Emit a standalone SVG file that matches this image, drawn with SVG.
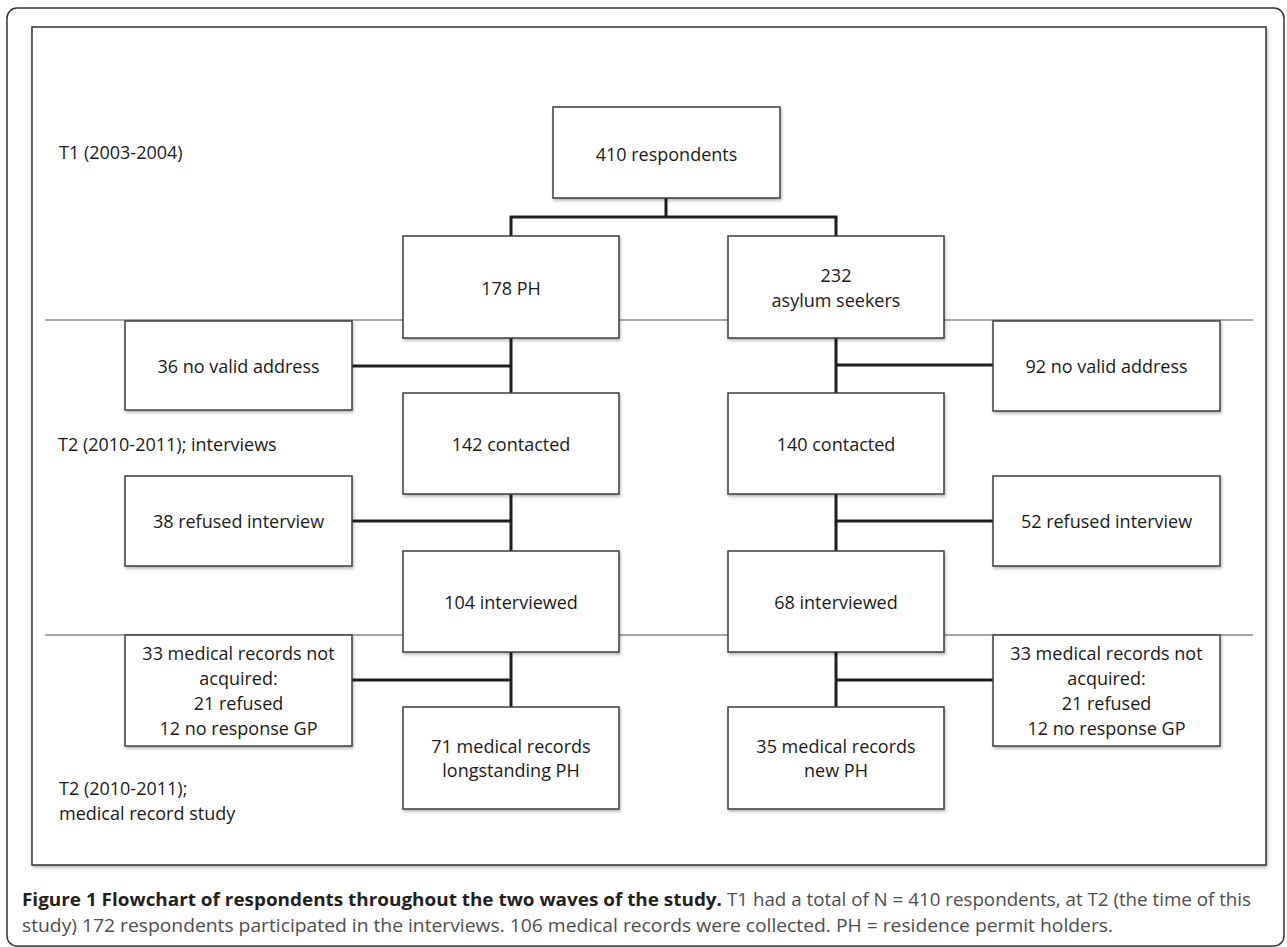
<svg xmlns="http://www.w3.org/2000/svg" width="1287" height="947" viewBox="0 0 1287 947">
<defs>
<filter id="sh" x="-10%" y="-10%" width="130%" height="140%">
<feDropShadow dx="1" dy="2" stdDeviation="1.5" flood-color="#000" flood-opacity="0.28"/>
</filter>
<style>
.box{fill:#fff;stroke:#3c3c3c;stroke-width:1.5;filter:url(#sh)}
.t{font-family:"Open Sans","Noto Sans",sans-serif;font-size:18px;fill:#1a1a1a;text-anchor:middle}
.lbl{font-family:"Open Sans","Noto Sans",sans-serif;font-size:18px;fill:#1a1a1a}
.sep{stroke:#4a4a4a;stroke-width:1.2;fill:none}
.con{stroke:#1e1e1e;stroke-width:3;fill:none}
.capb{font-family:"Open Sans","Noto Sans",sans-serif;font-size:17.5px;font-weight:bold;fill:#231f20}
.capn{font-family:"Open Sans","Noto Sans",sans-serif;font-size:17.5px;fill:#4d4d4d}
</style>
</defs>
<rect x="0" y="0" width="1287" height="947" fill="#fff"/>
<rect x="7" y="8" width="1277" height="938" rx="10" fill="none" stroke="#333" stroke-width="1.5"/>
<rect x="32" y="27" width="1234" height="838" fill="#fff" stroke="#333" stroke-width="1.5" filter="url(#sh)"/>

<g id="phase-lines">
<line class="sep" x1="45" y1="320" x2="1253" y2="320"/>
<line class="sep" x1="45" y1="635" x2="1253" y2="635"/>
</g>

<g id="labels">
<text class="lbl" x="59" y="158.5">T1 (2003-2004)</text>
<text class="lbl" x="58" y="450.5">T2 (2010-2011); interviews</text>
<text class="lbl" x="59" y="794.5">T2 (2010-2011);</text>
<text class="lbl" x="59" y="819.5">medical record study</text>
</g>

<g id="connectors">
<path class="con" d="M666,198 V217 M511,236 V217 H836 V236"/>
<path class="con" d="M511,338 V393 M352,366 H511"/>
<path class="con" d="M836,338 V393 M836,365 H993"/>
<path class="con" d="M511,494 V551 M352,521 H511"/>
<path class="con" d="M836,494 V551 M836,521 H993"/>
<path class="con" d="M511,652 V707 M352,680 H511"/>
<path class="con" d="M836,652 V707 M836,680 H993"/>
</g>

<g id="n410"><rect class="box" x="553" y="107" width="227" height="91"/><text class="t" x="666.5" y="160.5">410 respondents</text></g>
<g id="n178"><rect class="box" x="403" y="236" width="216" height="102"/><text class="t" x="511" y="295">178 PH</text></g>
<g id="n232"><rect class="box" x="728" y="236" width="216" height="102"/><text class="t" x="836" y="282">232</text><text class="t" x="836" y="306.5">asylum seekers</text></g>
<g id="n36"><rect class="box" x="125" y="321" width="227" height="89"/><text class="t" x="238.5" y="372.5">36 no valid address</text></g>
<g id="n92"><rect class="box" x="993" y="321" width="227" height="90"/><text class="t" x="1106.5" y="372.5">92 no valid address</text></g>
<g id="n142"><rect class="box" x="403" y="393" width="216" height="101"/><text class="t" x="511" y="450.5">142 contacted</text></g>
<g id="n140"><rect class="box" x="728" y="393" width="216" height="101"/><text class="t" x="836" y="450.5">140 contacted</text></g>
<g id="n38"><rect class="box" x="125" y="476" width="227" height="90"/><text class="t" x="238.5" y="527.5">38 refused interview</text></g>
<g id="n52"><rect class="box" x="993" y="476" width="227" height="90"/><text class="t" x="1106.5" y="527.5">52 refused interview</text></g>
<g id="n104"><rect class="box" x="403" y="551" width="216" height="101"/><text class="t" x="511" y="609">104 interviewed</text></g>
<g id="n68"><rect class="box" x="728" y="551" width="216" height="101"/><text class="t" x="836" y="609">68 interviewed</text></g>
<g id="n33L"><rect class="box" x="125" y="635" width="227" height="111"/><text class="t" x="238.5" y="659.5">33 medical records not</text><text class="t" x="238.5" y="684.5">acquired:</text><text class="t" x="238.5" y="709.5">21 refused</text><text class="t" x="238.5" y="734.5">12 no response GP</text></g>
<g id="n33R"><rect class="box" x="993" y="635" width="227" height="111"/><text class="t" x="1106.5" y="659.5">33 medical records not</text><text class="t" x="1106.5" y="684.5">acquired:</text><text class="t" x="1106.5" y="709.5">21 refused</text><text class="t" x="1106.5" y="734.5">12 no response GP</text></g>
<g id="n71"><rect class="box" x="403" y="707" width="216" height="102"/><text class="t" x="511" y="752.5">71 medical records</text><text class="t" x="511" y="777">longstanding PH</text></g>
<g id="n35"><rect class="box" x="728" y="707" width="216" height="102"/><text class="t" x="836" y="752.5">35 medical records</text><text class="t" x="836" y="777">new PH</text></g>

<g id="caption">
<text class="capb" x="22" y="906" textLength="700" lengthAdjust="spacingAndGlyphs">Figure 1 Flowchart of respondents throughout the two waves of the study.</text>
<text class="capn" x="727" y="906" textLength="524" lengthAdjust="spacingAndGlyphs">T1 had a total of N = 410 respondents, at T2 (the time of this</text>
<text class="capn" x="22" y="931.5" textLength="1091" lengthAdjust="spacingAndGlyphs">study) 172 respondents participated in the interviews. 106 medical records were collected. PH = residence permit holders.</text>
</g>
</svg>
